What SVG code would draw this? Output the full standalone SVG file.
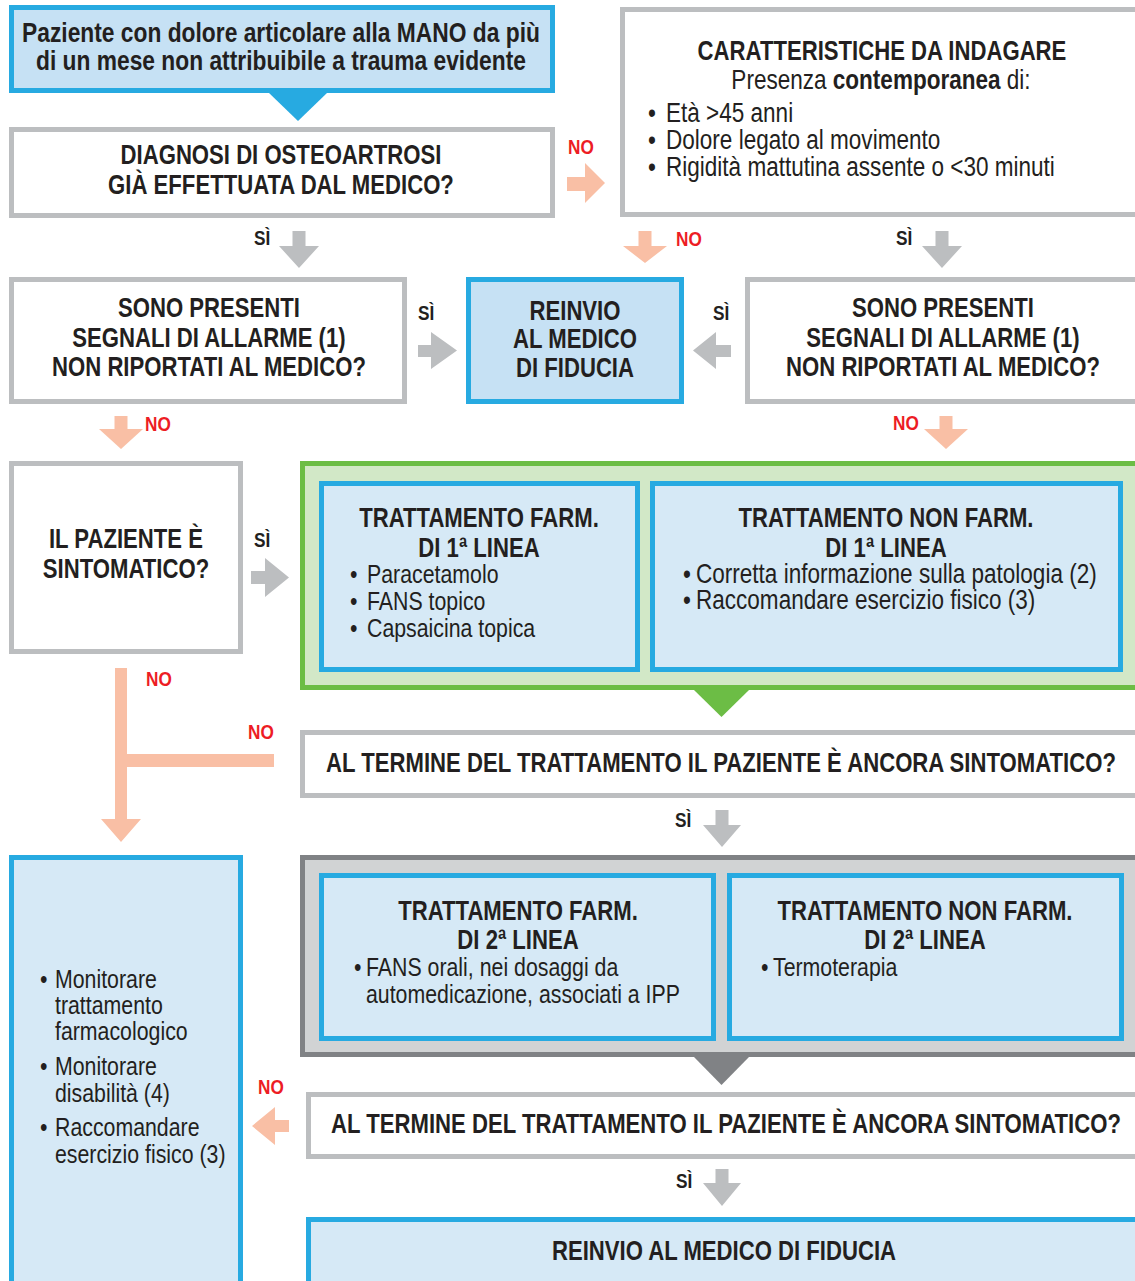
<svg xmlns="http://www.w3.org/2000/svg" width="1135" height="1281" viewBox="0 0 1135 1281">
<style>
text{font-family:"Liberation Sans",Arial,sans-serif;fill:#231f20}
.b{font-weight:bold;font-size:27px}
.r{font-size:26px}
.rl{font-size:27.5px}
.c{text-anchor:middle}
.lbl{font-weight:bold;font-size:21px}
.no{fill:#ed1c24}
.gray{fill:#fff;stroke:#bcbec0;stroke-width:5}
.blue{fill:#d6e9f6;stroke:#27aae1;stroke-width:5}
.blue2{fill:#c6e1f4;stroke:#27aae1;stroke-width:5}
.green{fill:#d2e8c7;stroke:#6cbd45;stroke-width:5}
.dark{fill:#d1d3d4;stroke:#808285;stroke-width:5}
.ag{fill:#bcbec0}
.as{fill:#f9bfa5}
</style>
<g id="connectors">
<polygon fill="#27aae1" points="269,93 327,93 298,121"/>
<polygon fill="#6cbd45" points="694,690 749,690 721.5,717"/>
<polygon fill="#808285" points="694,1057 749,1057 721.5,1085"/>
<polygon class="as" points="567,177 585,177 585,163 605,183 585,203 585,191 567,191"/>
<polygon class="ag" points="292.5,231 305.5,231 305.5,246 319,246 299,268 279,246 292.5,246"/>
<polygon class="as" points="638.5,231 651.5,231 651.5,246 667,246 645,263 623,246 638.5,246"/>
<polygon class="ag" points="935.5,231 948.5,231 948.5,246 962,246 942,268 922,246 935.5,246"/>
<polygon class="ag" points="418,345 431,345 431,332 457,350.5 431,369 431,357 418,357"/>
<polygon class="ag" points="731,345 716,345 716,332 693,350.5 716,369 716,357 731,357"/>
<polygon class="as" points="114.5,416 127.5,416 127.5,429 143,429 121,449 99,429 114.5,429"/>
<polygon class="as" points="939.5,416 952.5,416 952.5,429 968,429 946,449 924,429 939.5,429"/>
<polygon class="ag" points="251,571 265,571 265,558 289,577.5 265,597 265,584 251,584"/>
<polygon class="as" points="115,668 127,668 127,754 274,754 274,767 127,767 127,819 141,819 121,842 101,819 115,819"/>
<polygon class="ag" points="715.5,810 728.5,810 728.5,825 741,825 722,847 703,825 715.5,825"/>
<polygon class="as" points="289,1120 275,1120 275,1107 252,1126 275,1145 275,1132 289,1132"/>
<polygon class="ag" points="715.5,1169 728.5,1169 728.5,1183 741,1183 722,1206 703,1183 715.5,1183"/>
<g transform="scale(0.82 1)">
<text class="lbl no" x="692.68" y="154">NO</text>
<text class="lbl" x="309.76" y="245">SÌ</text>
<text class="lbl no" x="824.39" y="246">NO</text>
<text class="lbl" x="1092.68" y="245">SÌ</text>
<text class="lbl" x="509.76" y="320">SÌ</text>
<text class="lbl" x="869.51" y="320">SÌ</text>
<text class="lbl no" x="176.83" y="431">NO</text>
<text class="lbl no" x="1089.02" y="430">NO</text>
<text class="lbl" x="309.76" y="547">SÌ</text>
<text class="lbl no" x="178.05" y="686">NO</text>
<text class="lbl no" x="302.44" y="739">NO</text>
<text class="lbl" x="823.17" y="827">SÌ</text>
<text class="lbl no" x="314.63" y="1094">NO</text>
<text class="lbl" x="824.39" y="1188">SÌ</text>
</g>
</g>
<g id="start">
<rect class="blue2" x="11.5" y="7.5" width="541" height="83"/>
<g transform="scale(0.82 1)">
<text class="b c" x="342.68" y="42" style="font-size:27.8px">Paziente con dolore articolare alla MANO da più</text>
<text class="b c" x="342.68" y="70" style="font-size:27.8px">di un mese non attribuibile a trauma evidente</text>
</g>
</g>
<g id="diagnosi">
<rect class="gray" x="11.5" y="129.5" width="541" height="86"/>
<g transform="scale(0.82 1)">
<text class="b c" x="342.68" y="164">DIAGNOSI DI OSTEOARTROSI</text>
<text class="b c" x="342.68" y="194">GIÀ EFFETTUATA DAL MEDICO?</text>
</g>
</g>
<g id="caratteristiche">
<rect class="gray" x="622.5" y="9.5" width="520" height="205"/>
<g transform="scale(0.82 1)">
<text class="b c" x="1075.61" y="60">CARATTERISTICHE DA INDAGARE</text>
<text class="rl c" x="1074.39" y="89">Presenza <tspan font-weight="bold">contemporanea</tspan> di:</text>
<text class="rl" x="790.24" y="122">•</text><text class="rl" x="812.2" y="122">Età &gt;45 anni</text>
<text class="rl" x="790.24" y="149">•</text><text class="rl" x="812.2" y="149">Dolore legato al movimento</text>
<text class="rl" x="790.24" y="176">•</text><text class="rl" x="812.2" y="176">Rigidità mattutina assente o &lt;30 minuti</text>
</g>
</g>
<g id="allarme-sx">
<rect class="gray" x="11.5" y="279.5" width="393" height="122"/>
<g transform="scale(0.82 1)">
<text class="b c" x="254.88" y="317">SONO PRESENTI</text>
<text class="b c" x="254.88" y="347">SEGNALI DI ALLARME (1)</text>
<text class="b c" x="254.88" y="376">NON RIPORTATI AL MEDICO?</text>
</g>
</g>
<g id="reinvio1">
<rect class="blue2" x="468.5" y="279.5" width="213" height="122"/>
<g transform="scale(0.82 1)">
<text class="b c" x="701.22" y="320">REINVIO</text>
<text class="b c" x="701.22" y="348">AL MEDICO</text>
<text class="b c" x="701.22" y="377">DI FIDUCIA</text>
</g>
</g>
<g id="allarme-dx">
<rect class="gray" x="747.5" y="279.5" width="395" height="122"/>
<g transform="scale(0.82 1)">
<text class="b c" x="1150" y="317">SONO PRESENTI</text>
<text class="b c" x="1150" y="347">SEGNALI DI ALLARME (1)</text>
<text class="b c" x="1150" y="376">NON RIPORTATI AL MEDICO?</text>
</g>
</g>
<g id="sintomatico">
<rect class="gray" x="11.5" y="463.5" width="229" height="188"/>
<g transform="scale(0.82 1)">
<text class="b c" x="153.66" y="548">IL PAZIENTE È</text>
<text class="b c" x="153.66" y="578">SINTOMATICO?</text>
</g>
</g>
<g id="linea1">
<rect class="green" x="302.5" y="463.5" width="840" height="224"/>
<g id="farm1">
<rect class="blue" x="321.5" y="483.5" width="316" height="186"/>
<g transform="scale(0.82 1)">
<text class="b c" x="584.15" y="527">TRATTAMENTO FARM.</text>
<text class="b c" x="584.15" y="557">DI 1ª LINEA</text>
<text class="r" x="426.83" y="583">•</text><text class="r" x="447.56" y="583">Paracetamolo</text>
<text class="r" x="426.83" y="610">•</text><text class="r" x="447.56" y="610">FANS topico</text>
<text class="r" x="426.83" y="637">•</text><text class="r" x="447.56" y="637">Capsaicina topica</text>
</g>
</g>
<g id="nonfarm1">
<rect class="blue" x="652.5" y="483.5" width="468" height="186"/>
<g transform="scale(0.82 1)">
<text class="b c" x="1080.49" y="527">TRATTAMENTO NON FARM.</text>
<text class="b c" x="1080.49" y="557">DI 1ª LINEA</text>
<text class="rl" x="832.93" y="583">•</text><text class="rl" x="848.78" y="583">Corretta informazione sulla patologia (2)</text>
<text class="rl" x="832.93" y="609">•</text><text class="rl" x="848.78" y="609">Raccomandare esercizio fisico (3)</text>
</g>
</g>
</g>
<g id="termine1">
<rect class="gray" x="302.5" y="732.5" width="840" height="63"/>
<g transform="scale(0.82 1)">
<text class="b c" x="879.27" y="772">AL TERMINE DEL TRATTAMENTO IL PAZIENTE È ANCORA SINTOMATICO?</text>
</g>
</g>
<g id="linea2">
<rect class="dark" x="302.5" y="857.5" width="840" height="197"/>
<g id="farm2">
<rect class="blue" x="321.5" y="875.5" width="392" height="163"/>
<g transform="scale(0.82 1)">
<text class="b c" x="631.71" y="920">TRATTAMENTO FARM.</text>
<text class="b c" x="631.71" y="949">DI 2ª LINEA</text>
<text class="r" x="431.71" y="976">•</text><text class="r" x="446.34" y="976">FANS orali, nei dosaggi da</text>
<text class="r" x="446.34" y="1003">automedicazione, associati a IPP</text>
</g>
</g>
<g id="nonfarm2">
<rect class="blue" x="729.5" y="875.5" width="392" height="163"/>
<g transform="scale(0.82 1)">
<text class="b c" x="1128.05" y="920">TRATTAMENTO NON FARM.</text>
<text class="b c" x="1128.05" y="949">DI 2ª LINEA</text>
<text class="r" x="928.05" y="976">•</text><text class="r" x="942.68" y="976">Termoterapia</text>
</g>
</g>
</g>
<g id="termine2">
<rect class="gray" x="308.5" y="1094.5" width="834" height="62"/>
<g transform="scale(0.82 1)">
<text class="b c" x="885.37" y="1133">AL TERMINE DEL TRATTAMENTO IL PAZIENTE È ANCORA SINTOMATICO?</text>
</g>
</g>
<g id="reinvio2">
<rect class="blue" x="308.5" y="1219.5" width="834" height="75"/>
<g transform="scale(0.82 1)">
<text class="b c" x="882.93" y="1260">REINVIO AL MEDICO DI FIDUCIA</text>
</g>
</g>
<g id="monitoraggio">
<rect class="blue" x="11.5" y="857.5" width="229" height="430"/>
<g transform="scale(0.82 1)">
<text class="r" x="48.78" y="988">•</text><text class="r" x="67.07" y="988">Monitorare</text>
<text class="r" x="67.07" y="1014">trattamento</text>
<text class="r" x="67.07" y="1040">farmacologico</text>
<text class="r" x="48.78" y="1075">•</text><text class="r" x="67.07" y="1075">Monitorare</text>
<text class="r" x="67.07" y="1102">disabilità (4)</text>
<text class="r" x="48.78" y="1136">•</text><text class="r" x="67.07" y="1136">Raccomandare</text>
<text class="r" x="67.07" y="1163">esercizio fisico (3)</text>
</g>
</g>
</svg>
